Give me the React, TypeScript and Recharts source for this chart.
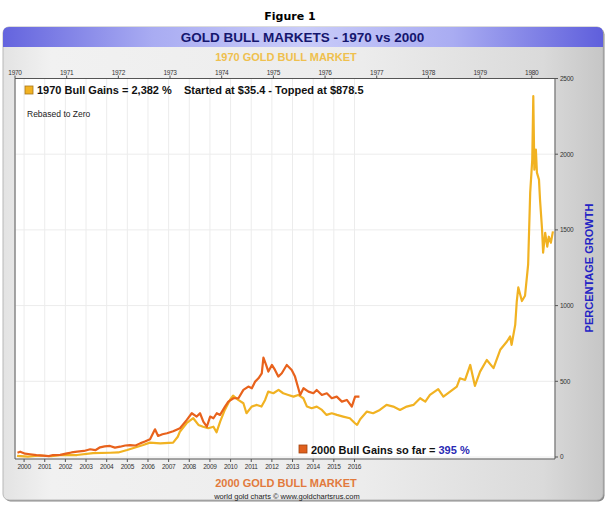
import React from "react";
import { LineChart, Line, XAxis, YAxis, CartesianGrid } from "recharts";

// 2000 gold bull market (bottom axis, calendar years) – % gain rebased to zero
const YEARS_2000 = [
  1999.68, 1999.81, 2000.05, 2000.29, 2000.6, 2000.92, 2001.2, 2001.4, 2001.75, 2002.08,
  2002.3, 2002.57, 2002.9, 2003.2, 2003.45, 2003.68, 2003.9, 2004.16, 2004.4, 2004.65,
  2004.9, 2005.13, 2005.4, 2005.62, 2005.85, 2006.1, 2006.34, 2006.49, 2006.7, 2006.92,
  2007.22, 2007.55, 2007.88, 2008.12, 2008.36, 2008.52, 2008.68, 2008.85, 2009.01, 2009.17,
  2009.33, 2009.49, 2009.73, 2009.89, 2010.14, 2010.38, 2010.62, 2010.86, 2011.03, 2011.19,
  2011.35, 2011.51, 2011.59, 2011.72, 2011.83, 2012.0, 2012.15, 2012.31, 2012.48, 2012.72,
  2012.96, 2013.12, 2013.28, 2013.37, 2013.53, 2013.77, 2014.01, 2014.17, 2014.42, 2014.66,
  2014.9, 2015.14, 2015.39, 2015.63, 2015.87, 2016.03, 2016.24,
];
const GAIN_2000 = [
  28, 35, 22, 18, 12, 9, 6, 13, 14, 24,
  30, 35, 40, 51, 45, 64, 70, 73, 62, 68,
  76, 79, 76, 90, 102, 118, 183, 139, 150, 157,
  170, 190, 245, 289, 267, 289, 234, 200, 267, 256,
  289, 278, 333, 366, 388, 388, 443, 465, 454, 498,
  520, 553, 657, 608, 564, 608, 575, 531, 553, 608,
  575, 531, 454, 410, 454, 432, 421, 443, 410, 421,
  388, 399, 366, 377, 333, 399, 399,
];

// 1970 gold bull market (top axis) – % gain rebased to zero
const YEARS_1970 = [
  1970.04, 1970.25, 1970.48, 1970.7, 1970.87, 1971.2, 1971.51, 1971.84, 1972.0, 1972.17,
  1972.48, 1972.61, 1972.81, 1973.06, 1973.15, 1973.19, 1973.32, 1973.45, 1973.55, 1973.64,
  1973.74, 1973.84, 1973.9, 1973.97, 1974.06, 1974.16, 1974.22, 1974.32, 1974.42, 1974.48,
  1974.58, 1974.68, 1974.77, 1974.84, 1974.9, 1975.0, 1975.1, 1975.19, 1975.29, 1975.39,
  1975.48, 1975.58, 1975.65, 1975.74, 1975.84, 1975.94, 1976.03, 1976.13, 1976.23, 1976.35,
  1976.48, 1976.58, 1976.62, 1976.68, 1976.81, 1976.93, 1977.06, 1977.19, 1977.32, 1977.45,
  1977.58, 1977.71, 1977.84, 1977.94, 1978.03, 1978.19, 1978.29, 1978.42, 1978.55, 1978.61,
  1978.71, 1978.81, 1978.9, 1979.0, 1979.13, 1979.26, 1979.39, 1979.52, 1979.58, 1979.61,
  1979.68, 1979.71, 1979.74, 1979.81, 1979.87, 1979.93, 1979.97, 1980.01, 1980.03, 1980.05,
  1980.08, 1980.1, 1980.14, 1980.16, 1980.2, 1980.22, 1980.26, 1980.3, 1980.33, 1980.37,
  1980.41,
];
const GAIN_1970 = [
  7, 3, 10, 5, 12, 13, 26, 28, 30, 46,
  79, 95, 90, 95, 134, 167, 223, 256, 212, 200,
  190, 200, 163, 234, 311, 377, 405, 377, 355, 289,
  333, 344, 333, 377, 432, 421, 443, 421, 410, 399,
  410, 388, 333, 322, 333, 311, 278, 289, 278, 267,
  256, 223, 212, 250, 300, 289, 311, 344, 333, 311,
  333, 344, 388, 366, 410, 448, 399, 432, 465, 520,
  509, 608, 470, 564, 641, 587, 708, 763, 796, 741,
  873, 1027, 1120, 1030, 1065, 1270, 1746, 1964, 2383, 1898,
  2030, 1878, 1832, 1700, 1501, 1349, 1481, 1389, 1455, 1415,
  1490,
];

const TOP_TICKS = [1970, 1971, 1972, 1973, 1974, 1975, 1976, 1977, 1978, 1979, 1980];
const BOTTOM_TICKS = [2000, 2001, 2002, 2003, 2004, 2005, 2006, 2007, 2008, 2009, 2010, 2011, 2012, 2013, 2014, 2015, 2016];
const Y_TICKS = [0, 500, 1000, 1500, 2000, 2500];

const data2000 = YEARS_2000.map((year, i) => ({ year, gain: GAIN_2000[i] }));
const data1970 = YEARS_1970.map((year, i) => ({ year, gain: GAIN_1970[i] }));

const SANS = "'Liberation Sans', Arial, sans-serif";
const tickStyle = { fontSize: 6.5, fill: "#333", fontFamily: SANS, letterSpacing: -0.3 };

const PL = 15, PR = 555, PT = 78.5, PB = 459;

export default function App() {
  return (
    <div style={{ position: "absolute", left: 0, top: 0, width: 613, height: 508, background: "#fff" }}>
      <svg width={613} height={508} style={{ position: "absolute", left: 0, top: 0 }}>
        <defs>
          <linearGradient id="panel" x1="0" y1="0" x2="1" y2="0">
            <stop offset="0" stopColor="#e3e3e3" />
            <stop offset="0.08" stopColor="#f1f1f1" />
            <stop offset="0.6" stopColor="#ececec" />
            <stop offset="0.9" stopColor="#dadada" />
            <stop offset="1" stopColor="#c6c6c6" />
          </linearGradient>
          <linearGradient id="head" x1="0" y1="0" x2="1" y2="0">
            <stop offset="0" stopColor="#6464de" />
            <stop offset="0.25" stopColor="#a9acf2" />
            <stop offset="0.5" stopColor="#c9ccf9" />
            <stop offset="0.75" stopColor="#a9acf2" />
            <stop offset="1" stopColor="#5f5fdc" />
          </linearGradient>
        </defs>
        <rect x={4.5} y={28.5} width={600} height={473} rx={6} fill="#8a8a8a" />
        <rect x={3} y={27} width={600} height={473} rx={6} fill="url(#panel)" stroke="#b8b8b8" />
        <path d="M3,47 L3,33 Q3,27 9,27 L597,27 Q603,27 603,33 L603,47 Z" fill="url(#head)" />
        <rect x={PL} y={PT} width={PR - PL} height={PB - PT} fill="#fff" />
        <text x={290} y={20} textAnchor="middle" fontFamily="'DejaVu Sans', Verdana, sans-serif" fontWeight="bold" fontSize={11} fill="#000">Figure 1</text>
        <text x={302.5} y={42} textAnchor="middle" fontFamily={SANS} fontWeight="bold" fontSize={13.5} fill="#15166e">GOLD BULL MARKETS - 1970 vs 2000</text>
        <text x={286} y={61} textAnchor="middle" fontFamily={SANS} fontWeight="bold" fontSize={11} fill="#efc04e">1970 GOLD BULL MARKET</text>
        <text x={286} y={487} textAnchor="middle" fontFamily={SANS} fontWeight="bold" fontSize={11} fill="#e27a3c">2000 GOLD BULL MARKET</text>
        <text x={287} y={499} textAnchor="middle" fontFamily={SANS} fontSize={7.5} fill="#222">world gold charts © www.goldchartsrus.com</text>
      </svg>

      <div style={{ position: "absolute", left: 0, top: 0 }}>
        <LineChart width={613} height={508} margin={{ top: PT - 20, right: 613 - PR - 40, bottom: 508 - PB - 20, left: PL }}>
          <CartesianGrid xAxisId="bottom" yAxisId="r" stroke="#ececec" strokeWidth={1} />
          <XAxis
            xAxisId="top"
            orientation="top"
            type="number"
            dataKey="year"
            domain={[1970, 1980.45]}
            allowDataOverflow
            ticks={TOP_TICKS}
            interval={0}
            height={20}
            tickSize={3}
            tickMargin={1}
            tick={tickStyle}
            stroke="#555"
          />
          <XAxis
            xAxisId="bottom"
            orientation="bottom"
            type="number"
            dataKey="year"
            domain={[1999.56, 2025.71]}
            allowDataOverflow
            ticks={BOTTOM_TICKS}
            interval={0}
            height={20}
            tickSize={3}
            tickMargin={2}
            tick={tickStyle}
            stroke="#555"
          />
          <YAxis
            yAxisId="r"
            orientation="right"
            type="number"
            domain={[0, 2500]}
            ticks={Y_TICKS}
            interval={0}
            width={40}
            tickSize={3}
            tickMargin={2}
            padding={{ bottom: 2 }}
            tick={{ ...tickStyle, textAnchor: "start" }}
            stroke="#555"
          />
          <Line
            data={data1970}
            xAxisId="top"
            yAxisId="r"
            dataKey="gain"
            type="linear"
            stroke="#f1b222"
            strokeWidth={2.2}
            strokeLinejoin="round"
            dot={false}
            isAnimationActive={false}
          />
          <Line
            data={data2000}
            xAxisId="bottom"
            yAxisId="r"
            dataKey="gain"
            type="linear"
            stroke="#e8621c"
            strokeWidth={2.2}
            strokeLinejoin="round"
            dot={false}
            isAnimationActive={false}
          />
        </LineChart>
      </div>

      <svg width={613} height={508} style={{ position: "absolute", left: 0, top: 0, pointerEvents: "none" }}>
        <line x1={PL} y1={PT} x2={PL} y2={PB} stroke="#555" />
        <rect x={25} y={86} width={8} height={8} fill="#f1b222" stroke="#a8761a" strokeWidth={0.8} />
        <text x={37} y={94} fontFamily={SANS} fontWeight="bold" fontSize={11} fill="#111">1970 Bull Gains = 2,382 %</text>
        <text x={184} y={94} fontFamily={SANS} fontWeight="bold" fontSize={11} fill="#111">Started at $35.4 - Topped at $878.5</text>
        <text x={27} y={117} fontFamily={SANS} fontSize={8.5} fill="#222">Rebased to Zero</text>
        <rect x={299} y={445} width={8} height={8} fill="#e0601e" stroke="#a04410" strokeWidth={0.8} />
        <text x={311} y={454} fontFamily={SANS} fontWeight="bold" fontSize={11} fill="#111">
          2000 Bull Gains so far = <tspan fill="#2a2ab4">395 %</tspan>
        </text>
        <text
          x={0}
          y={0}
          transform="translate(593,268) rotate(-90)"
          textAnchor="middle"
          fontFamily={SANS}
          fontWeight="bold"
          fontSize={11}
          fill="#2323c4"
        >
          PERCENTAGE GROWTH
        </text>
      </svg>
    </div>
  );
}
